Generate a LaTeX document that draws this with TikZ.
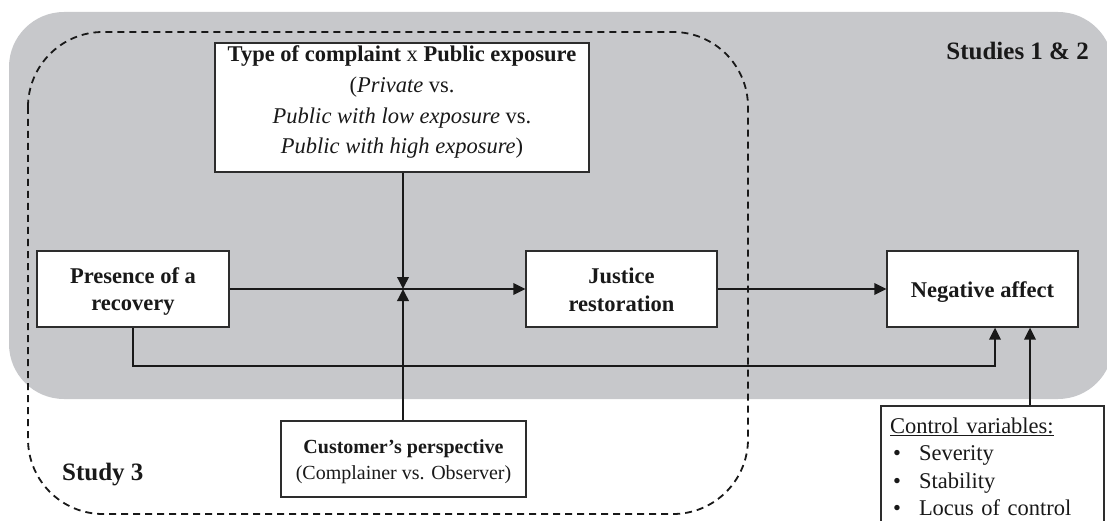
\documentclass[tikz,border=0pt]{standalone}
\usepackage{fontspec}
\setmainfont{Liberation Serif}
\usetikzlibrary{arrows.meta}

\definecolor{panelgray}{RGB}{199,200,203}
\definecolor{edgegray}{RGB}{45,45,45}
\definecolor{inkblack}{RGB}{25,25,25}

\tikzset{
  box/.style={draw=edgegray, line width=1.3pt, fill=white, inner xsep=0pt,
              inner ysep=0pt, align=center, text=inkblack},
  link/.style={draw=inkblack, line width=1.9pt},
  arr/.style={link, -{Triangle[length=12pt,width=11.5pt]}},
  studylabel/.style={font=\fontsize{25}{30}\selectfont\bfseries, text=inkblack, inner sep=0pt},
}

\begin{document}
\begin{tikzpicture}[x=1pt,y=-1pt]
\useasboundingbox (0,0) rectangle (1107,521);
\begin{scope}
\clip (0,0) rectangle (1107,521);

% shaded area for Studies 1 & 2
\fill[panelgray, rounded corners=55pt] (9,12) rectangle (1113,399);

% dashed outline for Study 3
\draw[inkblack, line width=1.8pt, dash pattern=on 7pt off 5pt, rounded corners=75pt]
  (28,32) rectangle (748,514);

% moderator (text height runs from the top edge to the last baseline)
\node[box, minimum width=374pt, text height=111pt, text depth=18pt,
      font=\fontsize{22.5}{30.7}\selectfont] (moderator) at (402,107.5)
  {\textbf{Type of complaint} x \textbf{Public exposure}\\
   (\textit{Private} vs.\\
   \textit{Public with low exposure} vs.\\
   \textit{Public with high exposure})};

% main path
\node[box, minimum width=192pt, text height=59pt, text depth=17pt,
      font=\fontsize{22.5}{27}\selectfont\bfseries] (presence) at (133,289)
  {Presence of a\\recovery};
\node[box, minimum width=191pt, text height=60pt, text depth=16pt,
      font=\fontsize{22.5}{28}\selectfont\bfseries] (justice) at (621.5,289)
  {Justice\\restoration};
\node[box, minimum width=191pt, text height=46pt, text depth=30pt,
      font=\fontsize{22.5}{27}\selectfont\bfseries] (negative) at (982.5,289)
  {Negative affect};

% second moderator
\node[box, minimum width=245pt, text height=58pt, text depth=18pt,
      font=\fontsize{20}{26}\selectfont] (customer) at (403.5,459)
  {\textbf{Customer’s perspective}\\(Complainer vs. Observer)};

% control variables (fixed text width: height is measured to the first baseline)
\node[box, align=left, inner xsep=9pt, text width=205pt, text height=27pt,
      text depth=112pt, font=\fontsize{22.5}{27.5}\selectfont] (control) at (992.5,475.5)
  {\underline{Control variables:}\\
   \makebox[29pt][l]{\hspace{3pt}\textbullet}Severity\\
   \makebox[29pt][l]{\hspace{3pt}\textbullet}Stability\\
   \makebox[29pt][l]{\hspace{3pt}\textbullet}Locus of control};

% study labels
\node[studylabel, anchor=base east] (studiesA) at (1089,60) {Studies 1 \& 2};
\node[studylabel, anchor=base west] (studyB) at (62,480) {Study 3};

% connectors
\coordinate (junction) at (403,289);
\coordinate (lowrail) at (995,366);
\draw[arr] (presence.east) -- (justice.west);
\draw[arr] (junction |- moderator.south) -- (junction);
\draw[arr] (junction |- customer.north) -- (junction);
\draw[arr] (justice.east) -- (negative.west);
\draw[arr] (presence.south) |- (lowrail) -- (lowrail |- negative.south);
\draw[arr] ([xshift=37.5pt]control.north) -- ([xshift=47.5pt]negative.south);
\end{scope}
\end{tikzpicture}
\end{document}
